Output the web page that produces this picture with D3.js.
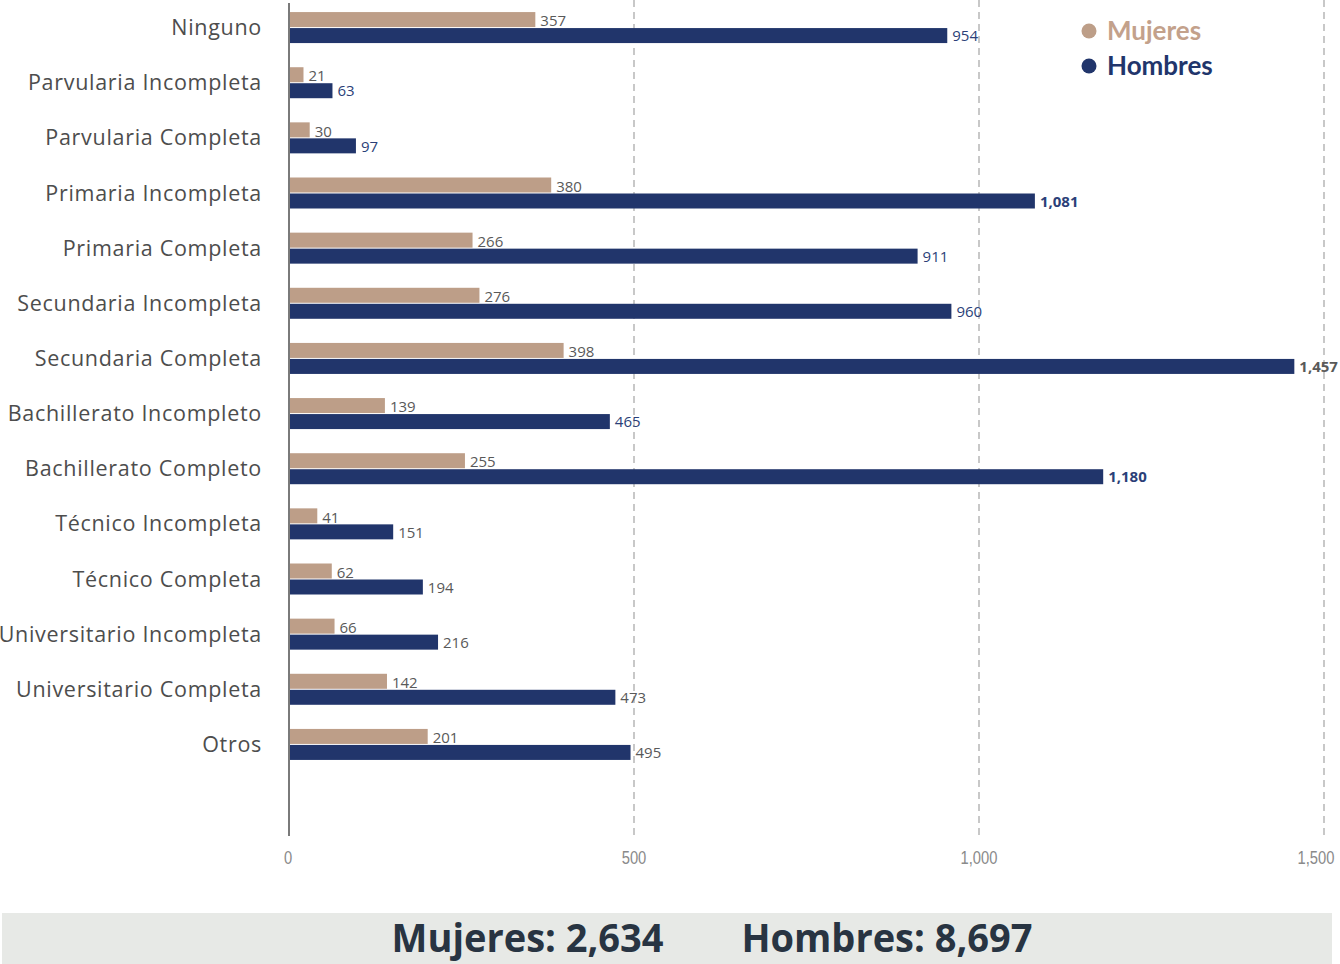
<!DOCTYPE html>
<html>
<head>
<meta charset="utf-8">
<script src="https://cdn.jsdelivr.net/npm/d3@7"></script>
<style>
  html, body { margin: 0; padding: 0; background: #ffffff; }
  svg { display: block; }
</style>
</head>
<body>
<svg id="chart" width="1340" height="964"></svg>
<script>
// Education level categories (top to bottom)
const categories = [
  "Ninguno",
  "Parvularia Incompleta",
  "Parvularia Completa",
  "Primaria Incompleta",
  "Primaria Completa",
  "Secundaria Incompleta",
  "Secundaria Completa",
  "Bachillerato Incompleto",
  "Bachillerato Completo",
  "Técnico Incompleta",
  "Técnico Completa",
  "Universitario Incompleta",
  "Universitario Completa",
  "Otros"
];
const mujeres  = [357, 21, 30, 380, 266, 276, 398, 139, 255, 41, 62, 66, 142, 201];
const hombres  = [954, 63, 97, 1081, 911, 960, 1457, 465, 1180, 151, 194, 216, 473, 495];
const xTicks   = [0, 500, 1000, 1500];
const seriesNames = ["Mujeres", "Hombres"];
const totalMujeres = 2634;
const totalHombres = 8697;

const COL_M = "#bd9e88";
const COL_H = "#21356b";
const COL_TXT = "#595959";
const fmt = d3.format(",");

const svg = d3.select("#chart");

const x = d3.scaleLinear().domain([0, 1500]).range([289, 1324]);
const y = d3.scaleBand().domain(categories).range([0, 772]);
const barH = 15;

// dashed vertical gridlines
svg.append("g")
  .selectAll("line")
  .data(xTicks.filter(d => d > 0))
  .join("line")
  .attr("x1", d => x(d)).attr("x2", d => x(d))
  .attr("y1", 0).attr("y2", 836)
  .attr("stroke", "#c8c8c8")
  .attr("stroke-width", 2)
  .attr("stroke-dasharray", "7,5");

// x axis tick labels (condensed)
const xAxis = svg.append("g")
  .attr("transform", "translate(0,864)")
  .call(d3.axisBottom(x).tickValues(xTicks).tickFormat(fmt).tickSize(0).tickPadding(0));
xAxis.select(".domain").remove();
xAxis.selectAll(".tick").attr("transform", d => {
  let px = x(d);
  if (d === 1500) px -= 8;
  if (d === 0) px -= 1;
  return "translate(" + px + ",0)";
});
xAxis.selectAll("text")
  .attr("fill", "#8a8a8a")
  .attr("font-family", "'Liberation Sans Narrow', 'Liberation Sans', sans-serif")
  .attr("font-size", 18)
  .attr("dy", 0)
  .attr("x", 0)
  .attr("transform", "scale(0.82,1.05)");

// category labels
svg.append("g")
  .selectAll("text")
  .data(categories)
  .join("text")
  .attr("x", 262)
  .attr("y", d => y(d) + y.bandwidth() / 2)
  .attr("dy", "0.35em")
  .attr("text-anchor", "end")
  .attr("fill", "#4d4d4d")
  .attr("font-family", "'Open Sans', Lato, sans-serif")
  .attr("font-size", 21.5)
  .attr("letter-spacing", 0.7)
  .text(d => d);

const rowCenter = c => y(c) + y.bandwidth() / 2;

// Mujeres bars
svg.append("g")
  .selectAll("rect")
  .data(categories)
  .join("rect")
  .attr("x", x(0))
  .attr("y", c => rowCenter(c) - barH - 0.5)
  .attr("width", (c, i) => x(mujeres[i]) - x(0))
  .attr("height", barH)
  .attr("fill", COL_M);

// Hombres bars
svg.append("g")
  .selectAll("rect")
  .data(categories)
  .join("rect")
  .attr("x", x(0))
  .attr("y", c => rowCenter(c) + 0.5)
  .attr("width", (c, i) => x(hombres[i]) - x(0))
  .attr("height", barH)
  .attr("fill", COL_H);

// value labels
const labelFont = "'Open Sans', 'Liberation Sans', sans-serif";
svg.append("g")
  .selectAll("text")
  .data(categories)
  .join("text")
  .attr("x", (c, i) => x(mujeres[i]) + 5)
  .attr("y", c => rowCenter(c) - barH / 2 + 1)
  .attr("dy", "0.35em")
  .attr("fill", COL_TXT)
  .attr("font-family", labelFont)
  .attr("font-size", 15)
  .text((c, i) => fmt(mujeres[i]));

const navyLabel = new Set([0, 1, 2, 3, 4, 5, 7, 8]);
const boldLabel = new Set([3, 6, 8]);
svg.append("g")
  .selectAll("text")
  .data(categories)
  .join("text")
  .attr("x", (c, i) => x(hombres[i]) + 5)
  .attr("y", c => rowCenter(c) + barH / 2 + 1)
  .attr("dy", "0.35em")
  .attr("fill", (c, i) => navyLabel.has(i) ? "#2b3f78" : COL_TXT)
  .attr("font-weight", (c, i) => boldLabel.has(i) ? "bold" : "normal")
  .attr("font-family", labelFont)
  .attr("font-size", 15)
  .text((c, i) => fmt(hombres[i]));

// vertical zero axis line
svg.append("line")
  .attr("x1", x(0)).attr("x2", x(0))
  .attr("y1", 3).attr("y2", 836)
  .attr("stroke", "#7a7a7a")
  .attr("stroke-width", 2);

// legend
const legend = svg.append("g").attr("transform", "translate(1089,0)");
const legColors = [COL_M, COL_H];
const legTextColors = ["#c3a18b", "#21356b"];
seriesNames.forEach((name, i) => {
  const cy = 31 + i * 35;
  legend.append("circle").attr("cx", 0).attr("cy", cy).attr("r", 7.5).attr("fill", legColors[i]);
  legend.append("text")
    .attr("x", 18).attr("y", cy).attr("dy", "0.35em")
    .attr("fill", legTextColors[i])
    .attr("font-family", "Lato, 'Open Sans', sans-serif")
    .attr("font-weight", "bold")
    .attr("font-size", 26)
    .text(name);
});

// totals banner
svg.append("rect")
  .attr("x", 2).attr("y", 913).attr("width", 1330).attr("height", 51)
  .attr("fill", "#e7e9e6");
const banner = svg.append("text")
  .attr("transform", "translate(712,952) scale(1,1.05)")
  .attr("text-anchor", "middle")
  .attr("fill", "#283442")
  .attr("font-family", "'Open Sans', 'Liberation Sans', sans-serif")
  .attr("font-weight", "bold")
  .attr("font-size", 38)
  .attr("xml:space", "preserve");
banner.append("tspan").text(seriesNames[0] + ": " + fmt(totalMujeres));
banner.append("tspan").attr("dx", 78).text(seriesNames[1] + ": " + fmt(totalHombres));
</script>
</body>
</html>
